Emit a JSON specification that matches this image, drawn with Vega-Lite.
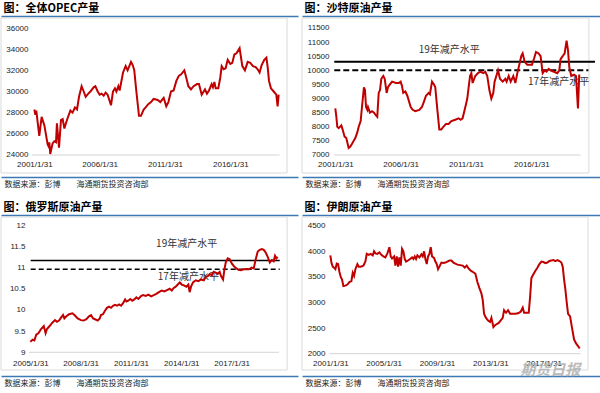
{
  "$schema": "https://vega.github.io/schema/vega-lite/v6.json",
  "padding": {"top": 3, "left": 0, "right": 0, "bottom": 0},
  "background": "white",
  "spacing": 14,
  "config": {
    "view": {"stroke": null},
    "title": {"anchor": "start", "font": "Noto Sans CJK SC", "fontSize": 11, "fontWeight": "bold", "color": "#000", "offset": 2, "dx": 3},
    "axis": {"grid": false, "ticks": false, "labelFont": "Liberation Sans", "labelFontSize": 8, "labelColor": "#222", "labelFlush": false, "labelOverlap": false, "titleFont": "Noto Sans CJK SC"},
    "concat": {"spacing": 3}
  },
  "vconcat": [
    {
      "hconcat": [
        {
          "width": 297, "height": 161,
          "title": "图：全体OPEC产量",
          "resolve": {"axis": {"x": "independent", "y": "independent"}},
          "layer": [
            {
              "data": {"values": [{}]},
              "mark": {"type": "rect", "fill": "transparent", "stroke": "#dadada", "strokeWidth": 1},
              "encoding": {
                "x": {"datum": 1998.53, "type": "quantitative", "scale": {"domain": [1998.53, 2021.26], "nice": false, "zero": false}, "axis": {"orient": "top", "domain": true, "domainColor": "#3d79b5", "domainWidth": 1.5, "labels": false, "title": null}},
                "x2": {"datum": 2020.42},
                "y": {"datum": 36945, "type": "quantitative", "scale": {"domain": [21921, 37134], "nice": false, "zero": false}, "axis": null},
                "y2": {"datum": 22299}
              }
            },
            {
              "data": {"values": [{}]},
              "mark": {"type": "rule", "color": "#d4d4d4", "strokeWidth": 1},
              "encoding": {
                "x": {"datum": 2000.9, "type": "quantitative", "scale": {"domain": [1998.53, 2021.26], "nice": false, "zero": false}, "axis": {"orient": "bottom", "domain": true, "domainColor": "#3d79b5", "domainWidth": 1.5, "labels": false, "title": "数据来源：彭博　　海通期货投资咨询部", "titleAnchor": "start", "titleAlign": "left", "titleX": 3, "titleFontSize": 8, "titleFontWeight": "normal", "titleColor": "#222", "titlePadding": 3}},
                "x2": {"datum": 2019.85},
                "y": {"datum": 24000, "type": "quantitative", "scale": {"domain": [21921, 37134], "nice": false, "zero": false}, "axis": null}
              }
            },
            {
              "data": {"values": [
                {"t":2001.08,"v":28300},{"t":2001.16,"v":27800},{"t":2001.23,"v":28200},{"t":2001.46,"v":25800},{"t":2001.64,"v":27600},{"t":2001.85,"v":26800},{"t":2002.10,"v":25000},{"t":2002.18,"v":24800},{"t":2002.23,"v":25200},{"t":2002.30,"v":24100},{"t":2002.48,"v":25100},{"t":2002.61,"v":25300},{"t":2002.74,"v":25200},{"t":2002.81,"v":27000},{"t":2002.97,"v":24700},{"t":2003.12,"v":27300},{"t":2003.25,"v":27400},{"t":2003.38,"v":26500},{"t":2003.50,"v":27000},{"t":2003.63,"v":27500},{"t":2003.84,"v":28200},{"t":2004.01,"v":28000},{"t":2004.19,"v":28500},{"t":2004.35,"v":28300},{"t":2004.50,"v":29500},{"t":2004.70,"v":30500},{"t":2004.86,"v":30000},{"t":2005.01,"v":29500},{"t":2005.21,"v":29800},{"t":2005.37,"v":30000},{"t":2005.62,"v":30400},{"t":2005.75,"v":30500},{"t":2005.93,"v":30000},{"t":2006.08,"v":29700},{"t":2006.23,"v":29800},{"t":2006.39,"v":29600},{"t":2006.54,"v":29900},{"t":2006.69,"v":29700},{"t":2006.95,"v":28700},{"t":2007.10,"v":30000},{"t":2007.25,"v":30300},{"t":2007.36,"v":30000},{"t":2007.51,"v":30500},{"t":2007.61,"v":30100},{"t":2007.87,"v":31800},{"t":2008.07,"v":32400},{"t":2008.22,"v":32000},{"t":2008.48,"v":32800},{"t":2008.61,"v":32500},{"t":2008.73,"v":32000},{"t":2008.89,"v":30000},{"t":2009.09,"v":27700},{"t":2009.24,"v":27700},{"t":2009.45,"v":28300},{"t":2009.60,"v":28500},{"t":2009.80,"v":28800},{"t":2010.01,"v":29000},{"t":2010.21,"v":29300},{"t":2010.52,"v":29200},{"t":2010.72,"v":29000},{"t":2010.98,"v":29400},{"t":2011.18,"v":28600},{"t":2011.34,"v":29000},{"t":2011.54,"v":30000},{"t":2011.74,"v":30100},{"t":2011.95,"v":31000},{"t":2012.15,"v":31500},{"t":2012.30,"v":31600},{"t":2012.56,"v":32000},{"t":2012.71,"v":31300},{"t":2012.87,"v":30500},{"t":2013.07,"v":30200},{"t":2013.27,"v":30500},{"t":2013.53,"v":30700},{"t":2013.68,"v":30700},{"t":2013.89,"v":29700},{"t":2014.04,"v":30000},{"t":2014.14,"v":30200},{"t":2014.29,"v":29800},{"t":2014.45,"v":30100},{"t":2014.65,"v":30700},{"t":2014.75,"v":30400},{"t":2014.86,"v":30900},{"t":2014.96,"v":30300},{"t":2015.16,"v":30300},{"t":2015.31,"v":31300},{"t":2015.42,"v":32400},{"t":2015.57,"v":32100},{"t":2015.72,"v":32200},{"t":2015.88,"v":33000},{"t":2016.08,"v":32600},{"t":2016.23,"v":32700},{"t":2016.39,"v":33500},{"t":2016.54,"v":33600},{"t":2016.79,"v":34100},{"t":2017.00,"v":32400},{"t":2017.20,"v":32000},{"t":2017.41,"v":32800},{"t":2017.61,"v":32700},{"t":2017.81,"v":32400},{"t":2018.02,"v":32300},{"t":2018.17,"v":32100},{"t":2018.32,"v":31800},{"t":2018.48,"v":32500},{"t":2018.68,"v":33000},{"t":2018.84,"v":33200},{"t":2018.94,"v":32300},{"t":2019.04,"v":31000},{"t":2019.19,"v":30300},{"t":2019.40,"v":30000},{"t":2019.60,"v":29700},{"t":2019.70,"v":28600},{"t":2019.78,"v":29700}
              ]},
              "mark": {"type": "line", "color": "#c00000", "strokeWidth": 2},
              "encoding": {
                "x": {"field": "t", "type": "quantitative", "scale": {"domain": [1998.53, 2021.26], "nice": false, "zero": false}, "axis": {"orient": "bottom", "offset": -19, "domain": false, "labelPadding": 2, "values": [2001.08, 2006.08, 2011.08, 2016.08], "labelExpr": "floor(datum.value) + '/1/31'", "title": null}},
                "y": {"field": "v", "type": "quantitative", "scale": {"domain": [21921, 37134], "nice": false, "zero": false}, "axis": {"orient": "left", "offset": -30, "domain": false, "labelPadding": 3, "values": [24000, 26000, 28000, 30000, 32000, 34000, 36000], "format": "d", "title": null}}
              }
            }
          ]
        },
        {
          "width": 300, "height": 161,
          "title": "图：沙特原油产量",
          "resolve": {"axis": {"x": "independent", "y": "independent"}},
          "layer": [
            {
              "data": {"values": [{}]},
              "mark": {"type": "rect", "fill": "transparent", "stroke": "#dadada", "strokeWidth": 1},
              "encoding": {
                "x": {"datum": 1998.53, "type": "quantitative", "scale": {"domain": [1998.53, 2021.49], "nice": false, "zero": false}, "axis": {"orient": "top", "domain": true, "domainColor": "#3d79b5", "domainWidth": 1.5, "labels": false, "title": null}},
                "x2": {"datum": 2020.49},
                "y": {"datum": 11854, "type": "quantitative", "scale": {"domain": [6220, 11925], "nice": false, "zero": false}, "axis": null},
                "y2": {"datum": 6362}
              }
            },
            {
              "data": {"values": [{}]},
              "mark": {"type": "rule", "color": "#d4d4d4", "strokeWidth": 1},
              "encoding": {
                "x": {"datum": 2001.0, "type": "quantitative", "scale": {"domain": [1998.53, 2021.49], "nice": false, "zero": false}, "axis": {"orient": "bottom", "domain": true, "domainColor": "#3d79b5", "domainWidth": 1.5, "labels": false, "title": "数据来源：彭博　　海通期货投资咨询部", "titleAnchor": "start", "titleAlign": "left", "titleX": 3, "titleFontSize": 8, "titleFontWeight": "normal", "titleColor": "#222", "titlePadding": 3}},
                "x2": {"datum": 2019.85},
                "y": {"datum": 7000, "type": "quantitative", "scale": {"domain": [6220, 11925], "nice": false, "zero": false}, "axis": null}
              }
            },
            {
              "data": {"values": [{}]},
              "mark": {"type": "text", "font": "Noto Sans CJK SC", "fontSize": 10, "color": "#333"},
              "encoding": {
                "x": {"datum": 2009.8, "type": "quantitative", "scale": {"domain": [1998.53, 2021.49], "nice": false, "zero": false}, "axis": null},
                "y": {"datum": 10736, "type": "quantitative", "scale": {"domain": [6220, 11925], "nice": false, "zero": false}, "axis": null},
                "text": {"value": "19年减产水平"}
              }
            },
            {
              "data": {"values": [{}]},
              "mark": {"type": "text", "font": "Noto Sans CJK SC", "fontSize": 10, "color": "#333"},
              "encoding": {
                "x": {"datum": 2018.17, "type": "quantitative", "scale": {"domain": [1998.53, 2021.49], "nice": false, "zero": false}, "axis": null},
                "y": {"datum": 9585, "type": "quantitative", "scale": {"domain": [6220, 11925], "nice": false, "zero": false}, "axis": null},
                "text": {"value": "17年减产水平"}
              }
            },
            {
              "data": {"values": [{}]},
              "mark": {"type": "rule", "color": "#000", "strokeWidth": 2},
              "encoding": {
                "x": {"datum": 2001.0, "type": "quantitative", "scale": {"domain": [1998.53, 2021.49], "nice": false, "zero": false}, "axis": null},
                "x2": {"datum": 2020.95},
                "y": {"datum": 10300, "type": "quantitative", "scale": {"domain": [6220, 11925], "nice": false, "zero": false}, "axis": null}
              }
            },
            {
              "data": {"values": [{}]},
              "mark": {"type": "rule", "color": "#000", "strokeWidth": 2, "strokeDash": [6, 3]},
              "encoding": {
                "x": {"datum": 2001.0, "type": "quantitative", "scale": {"domain": [1998.53, 2021.49], "nice": false, "zero": false}, "axis": null},
                "x2": {"datum": 2020.45},
                "y": {"datum": 10000, "type": "quantitative", "scale": {"domain": [6220, 11925], "nice": false, "zero": false}, "axis": null}
              }
            },
            {
              "data": {"values": [
                {"t":2001.08,"v":8650},{"t":2001.16,"v":8350},{"t":2001.23,"v":8000},{"t":2001.34,"v":7950},{"t":2001.54,"v":8050},{"t":2001.64,"v":7900},{"t":2001.79,"v":7650},{"t":2001.92,"v":7600},{"t":2002.10,"v":7250},{"t":2002.23,"v":7300},{"t":2002.36,"v":7400},{"t":2002.48,"v":7500},{"t":2002.61,"v":7600},{"t":2002.76,"v":7800},{"t":2002.87,"v":8000},{"t":2003.02,"v":8200},{"t":2003.12,"v":8700},{"t":2003.27,"v":9400},{"t":2003.35,"v":9300},{"t":2003.43,"v":8700},{"t":2003.53,"v":8600},{"t":2003.58,"v":8700},{"t":2003.73,"v":8500},{"t":2003.89,"v":8550},{"t":2004.04,"v":8500},{"t":2004.19,"v":8400},{"t":2004.29,"v":8350},{"t":2004.40,"v":9200},{"t":2004.50,"v":9300},{"t":2004.60,"v":9700},{"t":2004.75,"v":9800},{"t":2004.86,"v":9700},{"t":2005.01,"v":9200},{"t":2005.11,"v":9400},{"t":2005.26,"v":9500},{"t":2005.42,"v":9600},{"t":2005.72,"v":9550},{"t":2005.93,"v":9550},{"t":2006.08,"v":9600},{"t":2006.18,"v":9450},{"t":2006.28,"v":9200},{"t":2006.44,"v":9250},{"t":2006.59,"v":9100},{"t":2006.85,"v":8700},{"t":2007.00,"v":8600},{"t":2007.20,"v":8550},{"t":2007.51,"v":8600},{"t":2007.71,"v":8700},{"t":2007.87,"v":8900},{"t":2008.02,"v":9100},{"t":2008.22,"v":9200},{"t":2008.32,"v":9150},{"t":2008.48,"v":9600},{"t":2008.63,"v":9500},{"t":2008.73,"v":9400},{"t":2008.89,"v":8600},{"t":2009.04,"v":7900},{"t":2009.19,"v":7900},{"t":2009.35,"v":8000},{"t":2009.55,"v":8100},{"t":2009.75,"v":8100},{"t":2009.96,"v":8200},{"t":2010.26,"v":8250},{"t":2010.52,"v":8300},{"t":2010.67,"v":8250},{"t":2010.82,"v":8300},{"t":2010.98,"v":8600},{"t":2011.08,"v":8800},{"t":2011.18,"v":9000},{"t":2011.39,"v":9800},{"t":2011.49,"v":9900},{"t":2011.59,"v":9550},{"t":2011.79,"v":9800},{"t":2012.00,"v":9900},{"t":2012.20,"v":9950},{"t":2012.41,"v":9900},{"t":2012.56,"v":9950},{"t":2012.71,"v":9800},{"t":2012.87,"v":9300},{"t":2013.02,"v":9000},{"t":2013.17,"v":9200},{"t":2013.27,"v":9600},{"t":2013.53,"v":10000},{"t":2013.68,"v":9700},{"t":2013.89,"v":9600},{"t":2014.09,"v":9700},{"t":2014.19,"v":9600},{"t":2014.35,"v":9800},{"t":2014.50,"v":9600},{"t":2014.70,"v":9800},{"t":2014.86,"v":9550},{"t":2015.01,"v":9900},{"t":2015.16,"v":10200},{"t":2015.31,"v":10500},{"t":2015.42,"v":10600},{"t":2015.57,"v":10300},{"t":2015.77,"v":10200},{"t":2016.13,"v":10200},{"t":2016.28,"v":10400},{"t":2016.44,"v":10650},{"t":2016.64,"v":10600},{"t":2016.79,"v":10500},{"t":2016.95,"v":9900},{"t":2017.10,"v":10000},{"t":2017.25,"v":9950},{"t":2017.41,"v":10050},{"t":2017.56,"v":10000},{"t":2017.81,"v":9950},{"t":2018.07,"v":9900},{"t":2018.22,"v":10000},{"t":2018.32,"v":10400},{"t":2018.48,"v":10500},{"t":2018.63,"v":10600},{"t":2018.78,"v":11050},{"t":2018.89,"v":10700},{"t":2018.99,"v":10100},{"t":2019.14,"v":9800},{"t":2019.35,"v":9850},{"t":2019.50,"v":9800},{"t":2019.65,"v":8650},{"t":2019.75,"v":9850}
              ]},
              "mark": {"type": "line", "color": "#c00000", "strokeWidth": 2},
              "encoding": {
                "x": {"field": "t", "type": "quantitative", "scale": {"domain": [1998.53, 2021.49], "nice": false, "zero": false}, "axis": {"orient": "bottom", "offset": -19, "domain": false, "labelPadding": 2, "values": [2001.08, 2006.08, 2011.08, 2016.08], "labelExpr": "floor(datum.value) + '/1/31'", "title": null}},
                "y": {"field": "v", "type": "quantitative", "scale": {"domain": [6220, 11925], "nice": false, "zero": false}, "axis": {"orient": "left", "offset": -30, "domain": false, "labelPadding": 3, "values": [7000, 7500, 8000, 8500, 9000, 9500, 10000, 10500, 11000, 11500], "format": "d", "title": null}}
              }
            }
          ]
        }
      ]
    },
    {
      "hconcat": [
        {
          "width": 297, "height": 161,
          "title": "图：俄罗斯原油产量",
          "resolve": {"axis": {"x": "independent", "y": "independent"}},
          "layer": [
            {
              "data": {"values": [{}]},
              "mark": {"type": "rect", "fill": "transparent", "stroke": "#dadada", "strokeWidth": 1},
              "encoding": {
                "x": {"datum": 2003.33, "type": "quantitative", "scale": {"domain": [2003.33, 2021.04], "nice": false, "zero": false}, "axis": {"orient": "top", "domain": true, "domainColor": "#3d79b5", "domainWidth": 1.5, "labels": false, "title": null}},
                "x2": {"datum": 2020.39},
                "y": {"datum": 12.196, "type": "quantitative", "scale": {"domain": [8.44, 12.243], "nice": false, "zero": false}, "axis": null},
                "y2": {"datum": 8.582}
              }
            },
            {
              "data": {"values": [{}]},
              "mark": {"type": "rule", "color": "#d4d4d4", "strokeWidth": 1},
              "encoding": {
                "x": {"datum": 2005.0, "type": "quantitative", "scale": {"domain": [2003.33, 2021.04], "nice": false, "zero": false}, "axis": {"orient": "bottom", "domain": true, "domainColor": "#3d79b5", "domainWidth": 1.5, "labels": false, "title": "数据来源：彭博　　海通期货投资咨询部", "titleAnchor": "start", "titleAlign": "left", "titleX": 3, "titleFontSize": 8, "titleFontWeight": "normal", "titleColor": "#222", "titlePadding": 3}},
                "x2": {"datum": 2019.9},
                "y": {"datum": 9, "type": "quantitative", "scale": {"domain": [8.44, 12.243], "nice": false, "zero": false}, "axis": null}
              }
            },
            {
              "data": {"values": [{}]},
              "mark": {"type": "text", "font": "Noto Sans CJK SC", "fontSize": 10, "color": "#333"},
              "encoding": {
                "x": {"datum": 2014.4, "type": "quantitative", "scale": {"domain": [2003.33, 2021.04], "nice": false, "zero": false}, "axis": null},
                "y": {"datum": 11.567, "type": "quantitative", "scale": {"domain": [8.44, 12.243], "nice": false, "zero": false}, "axis": null},
                "text": {"value": "19年减产水平"}
              }
            },
            {
              "data": {"values": [{}]},
              "mark": {"type": "text", "font": "Noto Sans CJK SC", "fontSize": 10, "color": "#333"},
              "encoding": {
                "x": {"datum": 2014.5, "type": "quantitative", "scale": {"domain": [2003.33, 2021.04], "nice": false, "zero": false}, "axis": null},
                "y": {"datum": 10.77, "type": "quantitative", "scale": {"domain": [8.44, 12.243], "nice": false, "zero": false}, "axis": null},
                "text": {"value": "17年减产水平"}
              }
            },
            {
              "data": {"values": [{}]},
              "mark": {"type": "rule", "color": "#000", "strokeWidth": 1.5},
              "encoding": {
                "x": {"datum": 2005.1, "type": "quantitative", "scale": {"domain": [2003.33, 2021.04], "nice": false, "zero": false}, "axis": null},
                "x2": {"datum": 2019.95},
                "y": {"datum": 11.17, "type": "quantitative", "scale": {"domain": [8.44, 12.243], "nice": false, "zero": false}, "axis": null}
              }
            },
            {
              "data": {"values": [{}]},
              "mark": {"type": "rule", "color": "#000", "strokeWidth": 1.5, "strokeDash": [5, 3]},
              "encoding": {
                "x": {"datum": 2005.1, "type": "quantitative", "scale": {"domain": [2003.33, 2021.04], "nice": false, "zero": false}, "axis": null},
                "x2": {"datum": 2019.95},
                "y": {"datum": 10.96, "type": "quantitative", "scale": {"domain": [8.44, 12.243], "nice": false, "zero": false}, "axis": null}
              }
            },
            {
              "data": {"values": [
                {"t":2005.08,"v":9.25},{"t":2005.22,"v":9.3},{"t":2005.32,"v":9.28},{"t":2005.44,"v":9.42},{"t":2005.56,"v":9.45},{"t":2005.72,"v":9.55},{"t":2005.88,"v":9.62},{"t":2005.99,"v":9.45},{"t":2006.07,"v":9.55},{"t":2006.23,"v":9.62},{"t":2006.39,"v":9.7},{"t":2006.55,"v":9.76},{"t":2006.67,"v":9.72},{"t":2006.79,"v":9.75},{"t":2006.91,"v":9.82},{"t":2007.03,"v":9.88},{"t":2007.11,"v":9.8},{"t":2007.23,"v":9.85},{"t":2007.39,"v":9.9},{"t":2007.59,"v":9.92},{"t":2007.74,"v":9.87},{"t":2007.90,"v":9.8},{"t":2008.10,"v":9.76},{"t":2008.26,"v":9.75},{"t":2008.42,"v":9.78},{"t":2008.58,"v":9.85},{"t":2008.70,"v":9.88},{"t":2008.82,"v":9.8},{"t":2008.94,"v":9.78},{"t":2009.10,"v":9.75},{"t":2009.22,"v":9.8},{"t":2009.29,"v":9.88},{"t":2009.41,"v":9.9},{"t":2009.53,"v":9.98},{"t":2009.65,"v":10.05},{"t":2009.77,"v":10.08},{"t":2009.89,"v":10.05},{"t":2010.01,"v":10.1},{"t":2010.13,"v":10.12},{"t":2010.25,"v":10.1},{"t":2010.37,"v":10.13},{"t":2010.49,"v":10.1},{"t":2010.61,"v":10.16},{"t":2010.73,"v":10.25},{"t":2010.81,"v":10.2},{"t":2010.92,"v":10.22},{"t":2011.04,"v":10.26},{"t":2011.16,"v":10.22},{"t":2011.28,"v":10.25},{"t":2011.40,"v":10.3},{"t":2011.52,"v":10.26},{"t":2011.68,"v":10.33},{"t":2011.80,"v":10.35},{"t":2011.96,"v":10.33},{"t":2012.12,"v":10.36},{"t":2012.28,"v":10.32},{"t":2012.44,"v":10.35},{"t":2012.59,"v":10.38},{"t":2012.75,"v":10.42},{"t":2012.91,"v":10.46},{"t":2013.07,"v":10.44},{"t":2013.23,"v":10.47},{"t":2013.39,"v":10.5},{"t":2013.51,"v":10.46},{"t":2013.63,"v":10.52},{"t":2013.75,"v":10.55},{"t":2013.87,"v":10.6},{"t":2013.99,"v":10.65},{"t":2014.11,"v":10.6},{"t":2014.23,"v":10.58},{"t":2014.38,"v":10.55},{"t":2014.50,"v":10.6},{"t":2014.58,"v":10.42},{"t":2014.66,"v":10.55},{"t":2014.78,"v":10.65},{"t":2014.94,"v":10.7},{"t":2015.10,"v":10.68},{"t":2015.26,"v":10.72},{"t":2015.42,"v":10.7},{"t":2015.54,"v":10.78},{"t":2015.66,"v":10.8},{"t":2015.78,"v":10.85},{"t":2015.90,"v":10.82},{"t":2016.01,"v":10.9},{"t":2016.13,"v":10.88},{"t":2016.25,"v":10.85},{"t":2016.37,"v":10.9},{"t":2016.45,"v":10.8},{"t":2016.57,"v":10.72},{"t":2016.65,"v":10.95},{"t":2016.73,"v":11.12},{"t":2016.85,"v":11.22},{"t":2016.97,"v":11.2},{"t":2017.09,"v":11.1},{"t":2017.25,"v":11.02},{"t":2017.37,"v":10.98},{"t":2017.49,"v":10.95},{"t":2017.64,"v":10.94},{"t":2017.80,"v":10.96},{"t":2017.96,"v":10.97},{"t":2018.12,"v":10.96},{"t":2018.28,"v":11.0},{"t":2018.40,"v":10.98},{"t":2018.52,"v":11.2},{"t":2018.64,"v":11.38},{"t":2018.76,"v":11.42},{"t":2018.88,"v":11.44},{"t":2019.00,"v":11.42},{"t":2019.12,"v":11.35},{"t":2019.24,"v":11.25},{"t":2019.36,"v":11.12},{"t":2019.48,"v":11.18},{"t":2019.59,"v":11.15},{"t":2019.67,"v":11.28},{"t":2019.75,"v":11.22},{"t":2019.83,"v":11.25}
              ]},
              "mark": {"type": "line", "color": "#c00000", "strokeWidth": 2},
              "encoding": {
                "x": {"field": "t", "type": "quantitative", "scale": {"domain": [2003.33, 2021.04], "nice": false, "zero": false}, "axis": {"orient": "bottom", "offset": -19, "domain": false, "labelPadding": 2, "values": [2005.08, 2008.08, 2011.08, 2014.08, 2017.08], "labelExpr": "floor(datum.value) + '/1/31'", "title": null}},
                "y": {"field": "v", "type": "quantitative", "scale": {"domain": [8.44, 12.243], "nice": false, "zero": false}, "axis": {"orient": "left", "offset": -27, "domain": false, "labelPadding": 3, "values": [9, 9.5, 10, 10.5, 11, 11.5, 12], "labelExpr": "'' + datum.value", "title": null}}
              }
            }
          ]
        },
        {
          "width": 300, "height": 161,
          "title": "图：伊朗原油产量",
          "resolve": {"axis": {"x": "independent", "y": "independent"}},
          "layer": [
            {
              "data": {"values": [{}]},
              "mark": {"type": "rect", "fill": "transparent", "stroke": "#dadada", "strokeWidth": 1},
              "encoding": {
                "x": {"datum": 1998.955, "type": "quantitative", "scale": {"domain": [1998.955, 2021.455], "nice": false, "zero": false}, "axis": {"orient": "top", "domain": true, "domainColor": "#3d79b5", "domainWidth": 1.5, "labels": false, "title": null}},
                "x2": {"datum": 2020.405},
                "y": {"datum": 4670, "type": "quantitative", "scale": {"domain": [1564.5, 4709], "nice": false, "zero": false}, "axis": null},
                "y2": {"datum": 1681.7}
              }
            },
            {
              "data": {"values": [{}]},
              "mark": {"type": "rule", "color": "#d4d4d4", "strokeWidth": 1},
              "encoding": {
                "x": {"datum": 2001.0, "type": "quantitative", "scale": {"domain": [1998.955, 2021.455], "nice": false, "zero": false}, "axis": {"orient": "bottom", "domain": true, "domainColor": "#3d79b5", "domainWidth": 1.5, "labels": false, "title": "数据来源：彭博　　海通期货投资咨询部", "titleAnchor": "start", "titleAlign": "left", "titleX": 3, "titleFontSize": 8, "titleFontWeight": "normal", "titleColor": "#222", "titlePadding": 3}},
                "x2": {"datum": 2019.85},
                "y": {"datum": 2000, "type": "quantitative", "scale": {"domain": [1564.5, 4709], "nice": false, "zero": false}, "axis": null}
              }
            },
            {
              "data": {"values": [
                {"t":2001.08,"v":3920},{"t":2001.16,"v":3780},{"t":2001.26,"v":3700},{"t":2001.36,"v":3680},{"t":2001.46,"v":3650},{"t":2001.56,"v":3760},{"t":2001.66,"v":3750},{"t":2001.76,"v":3600},{"t":2001.86,"v":3500},{"t":2001.96,"v":3450},{"t":2002.06,"v":3320},{"t":2002.21,"v":3330},{"t":2002.36,"v":3350},{"t":2002.51,"v":3400},{"t":2002.66,"v":3420},{"t":2002.76,"v":3580},{"t":2002.86,"v":3520},{"t":2002.96,"v":3650},{"t":2003.11,"v":3750},{"t":2003.21,"v":3700},{"t":2003.36,"v":3700},{"t":2003.56,"v":3720},{"t":2003.71,"v":3800},{"t":2003.81,"v":3950},{"t":2003.96,"v":3930},{"t":2004.11,"v":3950},{"t":2004.26,"v":3920},{"t":2004.36,"v":4000},{"t":2004.46,"v":3960},{"t":2004.61,"v":3950},{"t":2004.76,"v":3980},{"t":2004.91,"v":3930},{"t":2005.06,"v":3900},{"t":2005.21,"v":3880},{"t":2005.36,"v":3960},{"t":2005.51,"v":4080},{"t":2005.61,"v":3900},{"t":2005.71,"v":3860},{"t":2005.86,"v":3900},{"t":2005.96,"v":3720},{"t":2006.06,"v":3900},{"t":2006.16,"v":3700},{"t":2006.26,"v":3880},{"t":2006.36,"v":3720},{"t":2006.46,"v":4050},{"t":2006.56,"v":4000},{"t":2006.66,"v":3850},{"t":2006.76,"v":3800},{"t":2006.91,"v":3820},{"t":2007.06,"v":3850},{"t":2007.21,"v":3880},{"t":2007.31,"v":3850},{"t":2007.41,"v":3900},{"t":2007.51,"v":3850},{"t":2007.61,"v":3920},{"t":2007.76,"v":3880},{"t":2007.91,"v":3940},{"t":2008.01,"v":3900},{"t":2008.11,"v":4000},{"t":2008.21,"v":3850},{"t":2008.31,"v":3750},{"t":2008.41,"v":3900},{"t":2008.51,"v":3950},{"t":2008.61,"v":4080},{"t":2008.71,"v":3900},{"t":2008.86,"v":3870},{"t":2008.96,"v":3800},{"t":2009.06,"v":3750},{"t":2009.16,"v":3650},{"t":2009.26,"v":3700},{"t":2009.41,"v":3780},{"t":2009.56,"v":3770},{"t":2009.71,"v":3780},{"t":2009.86,"v":3800},{"t":2010.01,"v":3820},{"t":2010.16,"v":3820},{"t":2010.31,"v":3780},{"t":2010.46,"v":3760},{"t":2010.61,"v":3740},{"t":2010.81,"v":3730},{"t":2011.01,"v":3720},{"t":2011.16,"v":3680},{"t":2011.31,"v":3720},{"t":2011.46,"v":3660},{"t":2011.61,"v":3620},{"t":2011.76,"v":3600},{"t":2011.96,"v":3560},{"t":2012.11,"v":3400},{"t":2012.26,"v":3280},{"t":2012.41,"v":3180},{"t":2012.51,"v":3050},{"t":2012.61,"v":2780},{"t":2012.71,"v":2720},{"t":2012.81,"v":2680},{"t":2012.91,"v":2650},{"t":2013.06,"v":2620},{"t":2013.16,"v":2700},{"t":2013.31,"v":2520},{"t":2013.41,"v":2550},{"t":2013.56,"v":2580},{"t":2013.71,"v":2600},{"t":2013.86,"v":2650},{"t":2014.01,"v":2700},{"t":2014.11,"v":2850},{"t":2014.26,"v":2800},{"t":2014.41,"v":2850},{"t":2014.56,"v":2780},{"t":2014.76,"v":2780},{"t":2014.96,"v":2780},{"t":2015.16,"v":2790},{"t":2015.36,"v":2820},{"t":2015.51,"v":2900},{"t":2015.61,"v":2800},{"t":2015.76,"v":2800},{"t":2015.96,"v":2800},{"t":2016.06,"v":3100},{"t":2016.16,"v":3480},{"t":2016.31,"v":3550},{"t":2016.46,"v":3620},{"t":2016.61,"v":3680},{"t":2016.76,"v":3750},{"t":2016.91,"v":3800},{"t":2017.06,"v":3790},{"t":2017.21,"v":3770},{"t":2017.36,"v":3780},{"t":2017.51,"v":3810},{"t":2017.66,"v":3820},{"t":2017.81,"v":3830},{"t":2017.96,"v":3810},{"t":2018.11,"v":3830},{"t":2018.26,"v":3810},{"t":2018.41,"v":3780},{"t":2018.51,"v":3700},{"t":2018.61,"v":3450},{"t":2018.71,"v":3250},{"t":2018.81,"v":3000},{"t":2018.91,"v":2780},{"t":2019.06,"v":2730},{"t":2019.21,"v":2500},{"t":2019.36,"v":2280},{"t":2019.51,"v":2200},{"t":2019.66,"v":2150},{"t":2019.78,"v":2100}
              ]},
              "mark": {"type": "line", "color": "#c00000", "strokeWidth": 2},
              "encoding": {
                "x": {"field": "t", "type": "quantitative", "scale": {"domain": [1998.955, 2021.455], "nice": false, "zero": false}, "axis": {"orient": "bottom", "offset": -19, "domain": false, "labelPadding": 2, "values": [2001.08, 2005.08, 2009.08, 2013.08, 2017.08], "labelExpr": "floor(datum.value) + '/1/31'", "title": null}},
                "y": {"field": "v", "type": "quantitative", "scale": {"domain": [1564.5, 4709], "nice": false, "zero": false}, "axis": {"orient": "left", "offset": -26, "domain": false, "labelPadding": 3, "values": [2000, 2500, 3000, 3500, 4000, 4500], "format": "d", "title": null}}
              }
            },
            {
              "data": {"values": [{}]},
              "mark": {"type": "text", "font": "Noto Sans CJK SC", "fontSize": 15, "fontWeight": "bold", "fontStyle": "italic", "color": "#b4b4b4", "opacity": 0.9},
              "encoding": {
                "x": {"datum": 2017.58, "type": "quantitative", "scale": {"domain": [1998.955, 2021.455], "nice": false, "zero": false}, "axis": null},
                "y": {"datum": 1690, "type": "quantitative", "scale": {"domain": [1564.5, 4709], "nice": false, "zero": false}, "axis": null},
                "text": {"value": "期货日报"}
              }
            }
          ]
        }
      ]
    }
  ]
}
